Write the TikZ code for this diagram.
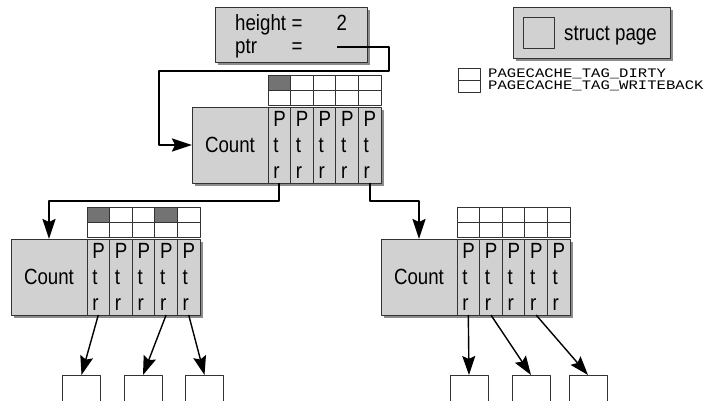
\documentclass[tikz,border=0pt]{standalone}
\usepackage{fontspec}
\setmainfont{Liberation Sans}[FakeStretch=0.85]
\newfontfamily\tagfont{Liberation Mono}[FakeStretch=1.2]
\usetikzlibrary{arrows.meta,positioning,shadows,calc}

\begin{document}
\begin{tikzpicture}[x=1pt, y=-1pt, line join=round,
		font=\fontsize{22}{26}\selectfont,
		box/.style={draw=black!80, line width=0.8pt, fill=black!18, inner sep=0pt, outer sep=0pt},
		shadowed/.style={drop shadow={shadow xshift=3pt, shadow yshift=-3pt, fill=black!45, opacity=1}},
		countbox/.style={box, shadowed, minimum width=76pt, minimum height=76pt},
		ptrbox/.style={box, shadowed, minimum width=\w, minimum height=76pt, text width=12pt, align=left},
		tagcell/.style={draw=black!80, line width=0.8pt, fill=white, inner sep=0pt, outer sep=0pt, minimum width=\w, minimum height=15pt},
		leaf/.style={draw=black!80, line width=0.8pt, fill=white, minimum width=38pt, minimum height=40pt, anchor=north},
		link/.style={line width=2pt, -{Stealth[length=20pt, width=13pt, inset=3pt]}},
		child/.style={line width=1.4pt, -{Stealth[length=19pt, width=13pt, inset=3pt]}}]
	\pgfmathsetmacro{\w}{22.6}
	\useasboundingbox (0,0) rectangle (707,401);
	% root pointer
	\node[box, shadowed, minimum width=152pt, minimum height=55pt] (info) at (291,34.5) {};
	\node[anchor=base west, inner sep=0pt] (hgt) at (235,31) {height};
	\node[anchor=base, inner sep=0pt] (eq1) at (297,31) {=};
	\node[anchor=base west, inner sep=0pt] (two) at (336.5,31) {2};
	\node[anchor=base west, inner sep=0pt] (ptr) at (235,54) {ptr};
	\node[anchor=base, inner sep=0pt] (eq2) at (297,54) {=};
	\coordinate (ptr-end) at (337,47);
	% radix tree nodes
	\foreach \n/\cx/\cy in {T/230/145, L/49/277, R/419/277}{
		\node[countbox] (\n-c) at (\cx,\cy) {Count};
		\foreach \i in {1,...,5}{
			\node[ptrbox, anchor=west] (\n-p\i) at ($(\n-c.east)+({(\i-1)*\w},0)$) {P\\t\\r};
			\node[tagcell, above=1.5pt of \n-p\i] (\n-w\i) {};
			\node[tagcell, above=0pt of \n-w\i] (\n-d\i) {};
		}
	}
	\foreach \n/\i in {T/1, L/1, L/4}
	\node[tagcell, fill=black!55] (\n-dk\i) at (\n-d\i) {};
	% pages
	\foreach \k/\x in {1/81.5, 2/143, 3/204.5, 4/469, 5/531, 6/588}
	\node[leaf] (leaf\k) at (\x,375) {};
	% connectors
	\draw[link] (ptr-end) -- (389,47) -- (389,71) -- (159,71) |- (T-c.west);
	\draw[link] (T-p1.south) -- ++(0,18) -| (L-c.north);
	\draw[link] (T-p5.south) -- ++(0,18) -| (R-c.north);
	\foreach \a/\b in {L-p1/leaf1, L-p4/leaf2, L-p5/leaf3, R-p1/leaf4, R-p2/leaf5, R-p4/leaf6}
	\draw[child] (\a.south) -- (\b.north);
	% legend
	\node[box, shadowed, minimum width=157pt, minimum height=51pt] (legend) at (591.5,32.5) {};
	\node[box, minimum size=31pt] (legend-sq) at (538.5,32.5) {};
	\node[anchor=base west, inner sep=0pt] (legend-txt) at (564,41) {struct page};
	\node[tagcell, minimum width=22pt, minimum height=12pt] (key-d) at (469,74) {};
	\node[tagcell, minimum width=22pt, minimum height=12pt, below=0pt of key-d] (key-w) {};
	\node[anchor=base west, inner sep=0pt, font=\tagfont\fontsize{13}{15}\selectfont] (key-d-txt) at (488,77.5) {PAGECACHE\_TAG\_DIRTY};
	\node[anchor=base west, inner sep=0pt, font=\tagfont\fontsize{13}{15}\selectfont] (key-w-txt) at (488,90) {PAGECACHE\_TAG\_WRITEBACK};
\end{tikzpicture}
\end{document}
